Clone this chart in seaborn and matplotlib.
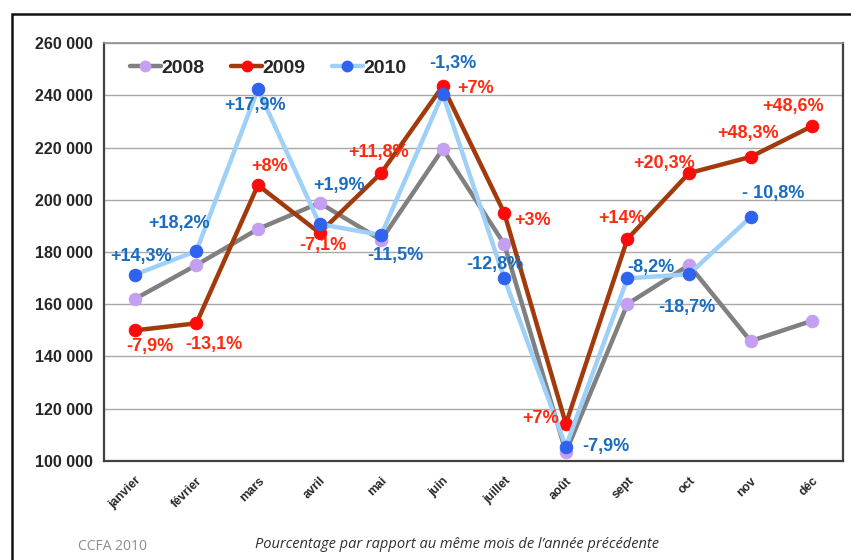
import matplotlib
matplotlib.use("Agg")
import matplotlib.pyplot as plt
from matplotlib.lines import Line2D
from matplotlib.patches import Rectangle
from matplotlib.ticker import FuncFormatter, FixedLocator
import seaborn as sns
import numpy as np

sns.set_theme(style="white")
plt.rcParams["font.family"] = ["Liberation Sans", "DejaVu Sans"]

months = ["janvier", "février", "mars", "avril", "mai", "juin", "juillet",
          "août", "sept", "oct", "nov", "déc"]

sales_2008 = [162000, 175000, 188800, 198800, 184600, 219400, 183000,
              103400, 160100, 175000, 145900, 153700]
sales_2009 = [150000, 152700, 205600, 187300, 210200, 243500, 194900,
              114200, 185000, 210200, 216400, 228200]
sales_2010 = [171300, 180400, 242400, 190700, 186500, 240500, 169900,
              105500, 169900, 171500, 193400]

labels_2009 = ["-7,9%", "-13,1%", "+8%", "-7,1%", "+11,8%", "+7%", "+3%",
               "+7%", "+14%", "+20,3%", "+48,3%", "+48,6%"]
labels_2010 = ["+14,3%", "+18,2%", "+17,9%", "+1,9%", "-11,5%", "-1,3%",
               "-12,8%", "-7,9%", "-8,2%", "-18,7%", "- 10,8%"]

# label offsets from each point, in pixels (dx, dy), y up
offsets_2009 = [(15, -16), (18, -21), (12, 19), (3, -13), (-3, 21), (33, -2),
                (28, -7), (-25, 5), (-6, 20), (-25, 10), (-3, 23), (-19, 20)]
offsets_2010 = [(6, 18), (-17, 27), (-3, -17), (20, 39), (14, -20), (10, 30),
                (-9, 14), (40, 0), (23, 11), (-2, -33), (23, 23)]

C_2008_LINE, C_2008_MK = "#808080", "#c49ff2"
C_2009_LINE, C_2009_MK = "#a33a0c", "#ff0a0a"
C_2010_LINE, C_2010_MK = "#9fd0f7", "#2f63ee"
C_2009_TXT = "#ff2a10"
C_2010_TXT = "#1a6cc0"

fig = plt.figure(figsize=(8.51, 5.60), dpi=100)
ax = fig.add_axes([104 / 851, 99 / 560, 739 / 851, 418 / 560])

x_all = list(range(len(months)))

series = [
    (sales_2008, C_2008_LINE, C_2008_MK, 2),
    (sales_2009, C_2009_LINE, C_2009_MK, 3),
    (sales_2010, C_2010_LINE, C_2010_MK, 4),
]
for vals, lc, mc, z in series:
    sns.lineplot(x=x_all[:len(vals)], y=vals, ax=ax, color=lc, linewidth=3.2,
                 marker="o", markersize=9, markerfacecolor=mc,
                 markeredgecolor=mc, zorder=z)

for i, (lab, off) in enumerate(zip(labels_2009, offsets_2009)):
    ax.annotate(lab, (i, sales_2009[i]), xytext=off, textcoords="offset pixels",
                ha="center", va="center", color=C_2009_TXT, fontsize=13,
                fontweight="bold", zorder=6)
for i, (lab, off) in enumerate(zip(labels_2010, offsets_2010)):
    ax.annotate(lab, (i, sales_2010[i]), xytext=off, textcoords="offset pixels",
                ha="center", va="center", color=C_2010_TXT, fontsize=13,
                fontweight="bold", zorder=6)

ax.set_xlim(-0.5, len(months) - 0.5)
ax.set_ylim(100000, 260000)
ax.set_yticks(np.arange(100000, 260001, 20000))
ax.yaxis.set_major_formatter(FuncFormatter(lambda v, p: f"{v:,.0f}".replace(",", " ")))
ax.set_xticks(x_all)
ax.set_xticklabels(months, rotation=45, ha="right", rotation_mode="anchor",
                   fontsize=8.8, fontweight="bold")
ax.xaxis.set_minor_locator(FixedLocator(np.arange(-0.5, len(months), 1)))
ax.tick_params(axis="x", which="major", length=0, pad=10)
ax.tick_params(axis="x", which="minor", length=4, color="#909090", width=1)
ax.tick_params(axis="y", length=4, color="#909090", width=1, labelsize=11.5, pad=4)
for t in ax.get_yticklabels():
    t.set_fontweight("bold")
ax.set_xlabel("")
ax.set_ylabel("")
ax.grid(axis="y", color="#a8a8a8", linewidth=1)
ax.set_axisbelow(True)
for side in ["left", "bottom", "right"]:
    ax.spines[side].set_color("#404040")
    ax.spines[side].set_linewidth(1.6)
ax.spines["top"].set_color("#909090")
ax.spines["top"].set_linewidth(1.2)

handles = [
    Line2D([], [], color=C_2008_LINE, lw=3.2, marker="o", markersize=7.5,
           markerfacecolor=C_2008_MK, markeredgecolor=C_2008_MK),
    Line2D([], [], color=C_2009_LINE, lw=3.2, marker="o", markersize=7.5,
           markerfacecolor=C_2009_MK, markeredgecolor=C_2009_MK),
    Line2D([], [], color=C_2010_LINE, lw=3.2, marker="o", markersize=7.5,
           markerfacecolor=C_2010_MK, markeredgecolor=C_2010_MK),
]
leg = ax.legend(handles, ["2008", "2009", "2010"], loc="upper left",
                bbox_to_anchor=(0.012, 1.003), ncol=3, frameon=False,
                handlelength=1.55, handletextpad=0.03, columnspacing=1.4,
                prop={"size": 14, "weight": "bold"})
leg.set_zorder(7)

# outer frame
fig.patches.append(Rectangle((12 / 851, -0.05), 1.0, (560 - 14) / 560 + 0.05,
                             transform=fig.transFigure, fill=False,
                             edgecolor="#111111", linewidth=1.8))

fig.text(112 / 851, 1 - 546 / 560, "CCFA 2010", ha="center", va="center",
         fontsize=10, color="#8c8c8c", family=["Open Sans", "DejaVu Sans"])
fig.text(457 / 851, 1 - 545 / 560,
         "Pourcentage par rapport au même mois de l\u2019année précédente",
         ha="center", va="center", fontsize=10.5, style="italic", color="#303030",
         family=["Open Sans", "DejaVu Sans"])

fig.savefig("out.png", dpi=100)
